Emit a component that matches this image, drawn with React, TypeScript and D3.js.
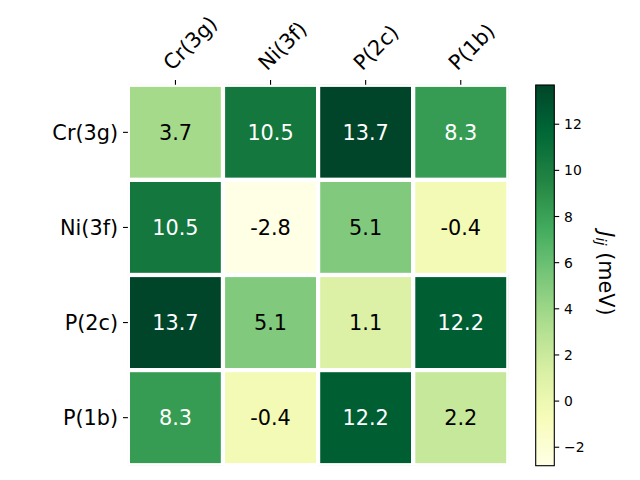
import React from "react";
import * as d3 from "d3";

const labels = ["Cr(3g)", "Ni(3f)", "P(2c)", "P(1b)"];
const rowCr = [3.7, 10.5, 13.7, 8.3];
const rowNi = [10.5, -2.8, 5.1, -0.4];
const rowP2c = [13.7, 5.1, 1.1, 12.2];
const rowP1b = [8.3, -0.4, 12.2, 2.2];
const matrix = [rowCr, rowNi, rowP2c, rowP1b];
const cbTicks = [-2, 0, 2, 4, 6, 8, 10, 12];
const vmin = -2.8;
const vmax = 13.7;
const ylgn = ["#ffffe5", "#f7fcb9", "#d9f0a3", "#addd8e", "#78c679", "#41ab5d", "#238443", "#006837", "#004529"];

const FONT = "DejaVu Sans";

export default function App() {
  const left = 127.9, right = 508.3, top = 84.8, bottom = 465.2;
  const x = d3.scaleBand<number>().domain(d3.range(4)).range([left, right]);
  const y = d3.scaleBand<number>().domain(d3.range(4)).range([top, bottom]);
  const norm = d3.scaleLinear().domain([vmin, vmax]).range([0, 1]);
  const cmap = d3
    .scaleLinear<string>()
    .domain(ylgn.map((_, i) => i / (ylgn.length - 1)))
    .range(ylgn)
    .interpolate(d3.interpolateRgb)
    .clamp(true);
  const color = (v: number) => cmap(norm(v));

  const cbL = 535.7, cbR = 554.3, cbT = 85, cbB = 465.7;
  const cy = d3.scaleLinear().domain([vmin, vmax]).range([cbB, cbT]);
  const stops = d3.range(0, 1.0001, 0.02);

  const tickLen = 4.9;
  const pad = 4.9;
  const desc = 4.9;
  const s = Math.SQRT1_2;

  return (
    <svg width={640} height={480} style={{ position: "absolute", left: 0, top: 0 }} fontFamily={FONT}>
      <rect width={640} height={480} fill="white" />
      <defs>
        <linearGradient id="cbgrad" x1="0" y1="1" x2="0" y2="0">
          {stops.map((t) => (
            <stop key={t} offset={t} stopColor={cmap(t)} />
          ))}
        </linearGradient>
        <clipPath id="axclip">
          <rect x={left} y={top} width={right - left} height={bottom - top} />
        </clipPath>
      </defs>
      <g clipPath="url(#axclip)">
        {matrix.map((row, i) =>
          row.map((v, j) => (
            <rect
              key={`${i}-${j}`}
              x={x(j)}
              y={y(i)}
              width={x.bandwidth()}
              height={y.bandwidth()}
              fill={color(v)}
              stroke="white"
              strokeWidth={4.2}
            />
          ))
        )}
      </g>
      {matrix.map((row, i) =>
        row.map((v, j) => (
          <text
            key={`t${i}-${j}`}
            x={x(j)! + x.bandwidth() / 2}
            y={y(i)! + y.bandwidth() / 2 + 7.5}
            textAnchor="middle"
            fontSize={20.8}
            fill={norm(v) > 0.5 ? "white" : "black"}
          >
            {v.toFixed(1)}
          </text>
        ))
      )}
      {/* left ticks */}
      {labels.map((l, i) => {
        const cyv = y(i)! + y.bandwidth() / 2;
        return (
          <g key={`yl${i}`}>
            <line x1={left - tickLen} x2={left} y1={cyv} y2={cyv} stroke="black" strokeWidth={1.1} />
            <text x={left - tickLen - pad} y={cyv + 7.5} textAnchor="end" fontSize={20.8} fill="black">
              {l}
            </text>
          </g>
        );
      })}
      {/* top ticks */}
      {labels.map((l, j) => {
        const cxv = x(j)! + x.bandwidth() / 2;
        const ay = top - tickLen - pad;
        const bx = cxv - desc * s;
        const by = ay - desc * s;
        return (
          <g key={`xl${j}`}>
            <line x1={cxv} x2={cxv} y1={top - tickLen} y2={top} stroke="black" strokeWidth={1.1} />
            <text x={bx} y={by} transform={`rotate(-45 ${bx} ${by})`} textAnchor="start" fontSize={20.8} fill="black">
              {l}
            </text>
          </g>
        );
      })}
      {/* colorbar */}
      <rect x={cbL} y={cbT} width={cbR - cbL} height={cbB - cbT} fill="url(#cbgrad)" />
      <rect x={cbL} y={cbT} width={cbR - cbL} height={cbB - cbT} fill="none" stroke="black" strokeWidth={1.1} />
      {cbTicks.map((t) => (
        <g key={`cb${t}`}>
          <line x1={cbR} x2={cbR + 4.9} y1={cy(t)} y2={cy(t)} stroke="black" strokeWidth={1.1} />
          <text x={cbR + 4.9 + 4.9} y={cy(t) + 5} fontSize={13.9} fill="black">
            {t < 0 ? `\u2212${Math.abs(t)}` : `${t}`}
          </text>
        </g>
      ))}
      <text x={599} y={273.5} transform="rotate(90 599 273.5)" textAnchor="middle" fontSize={20.8} fill="black" dx={0} dy={0}>
        <tspan fontStyle="italic">J</tspan>
        <tspan fontStyle="italic" fontSize={14.5} dy={3.5}>ij</tspan>
        <tspan dy={-3.5}>{"\u00a0(meV)"}</tspan>
      </text>
    </svg>
  );
}
